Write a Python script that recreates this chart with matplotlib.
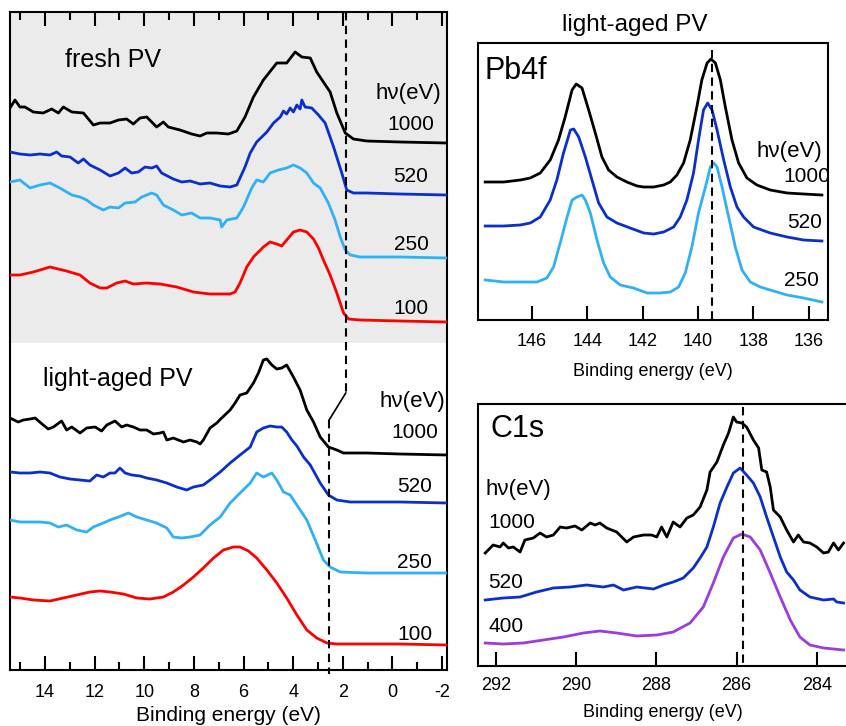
import matplotlib
matplotlib.use("Agg")
import matplotlib.pyplot as plt
from matplotlib.ticker import MultipleLocator

plt.rcParams['font.family'] = ['Liberation Sans', 'DejaVu Sans']
plt.rcParams['axes.unicode_minus'] = False

# ---------------- valence band, fresh PV (binding energy eV, intensity a.u.) -------------
fresh_1000_x = [15.41,15.21,15.01,14.81,14.47,14.07,13.73,13.46,13.26,12.92,12.45,12.05,11.78,11.38,11.04,10.71,10.44,10.17,9.90,9.50,9.23,9.03,8.56,8.09,7.75,7.48,7.08,6.61,6.27,5.94,5.60,5.20,4.66,4.26,3.92,3.65,3.31,3.05,2.51,2.24,1.90,1.57,1.03,-0.31,-2.20]
fresh_1000_y = [562,570,563,563,558,557,561,557,563,558,557,545,547,547,550,551,546,552,553,543,548,543,540,536,534,537,537,536,539,553,573,590,607,607,618,613,612,598,578,557,537,531,529,528,527]

fresh_520_x = [15.41,15.01,14.60,14.20,13.80,13.53,13.33,12.99,12.66,12.45,12.19,11.78,11.38,11.04,10.77,10.51,10.24,9.97,9.70,9.50,9.30,8.83,8.49,8.15,7.75,7.35,6.94,6.54,6.27,5.94,5.73,5.47,5.06,4.79,4.52,4.39,4.26,4.12,3.99,3.85,3.72,3.65,3.52,3.25,2.98,2.71,2.37,2.04,1.84,1.57,1.03,-0.31,-2.20]
fresh_520_y = [518,516,515,516,515,518,514,513,507,511,505,500,494,497,502,497,498,503,502,504,497,491,488,489,486,487,484,483,485,503,517,528,538,547,553,559,556,562,558,565,561,570,563,562,555,547,523,497,480,477,477,476,475]

fresh_250_x = [15.41,15.01,14.60,14.20,13.80,13.40,12.92,12.59,12.32,12.05,11.65,11.38,11.04,10.77,10.37,10.10,9.70,9.50,9.23,8.83,8.49,8.09,7.75,7.35,6.94,6.88,6.67,6.27,6.00,5.67,5.47,5.20,4.93,4.59,4.26,3.99,3.72,3.45,3.18,2.91,2.58,2.31,2.10,1.90,1.70,1.30,-0.31,-2.20]
fresh_250_y = [488,490,482,485,487,482,475,473,470,465,460,463,462,467,468,473,477,475,465,460,455,457,452,452,450,443,450,452,463,482,490,488,497,500,502,505,502,497,487,482,467,450,433,420,415,413,413,412]

fresh_100_x = [15.41,15.01,14.47,13.80,13.13,12.59,12.19,11.78,11.51,11.11,10.77,10.44,9.90,9.36,8.69,8.02,7.35,6.54,6.34,6.14,5.87,5.60,5.20,4.93,4.66,4.46,4.26,3.99,3.72,3.45,3.18,2.98,2.78,2.51,2.24,1.97,1.77,1.30,-0.31,-2.20]
fresh_100_y = [395,395,398,403,399,395,387,382,382,387,389,386,387,386,383,378,376,376,378,387,403,413,423,428,426,424,430,438,440,438,431,422,410,395,377,357,351,350,349,348]

# ---------------- valence band, light-aged PV ----------------
aged_1000_x = [15.41,15.08,14.87,14.60,14.40,14.07,13.87,13.66,13.33,13.13,12.92,12.59,12.32,11.98,11.72,11.51,11.18,10.91,10.71,10.44,10.17,9.90,9.63,9.36,9.23,9.09,8.83,8.42,8.15,7.88,7.75,7.62,7.35,7.08,6.88,6.54,6.34,6.14,5.87,5.60,5.40,5.20,5.06,4.86,4.66,4.46,4.26,3.99,3.72,3.45,3.18,2.91,2.58,2.24,1.97,1.03,-0.31,-2.20]
aged_1000_y = [252,248,250,251,252,245,241,243,249,240,243,237,242,243,239,245,249,243,245,243,240,240,236,237,238,230,232,228,230,228,226,230,242,247,252,260,267,275,277,287,297,310,311,305,301,302,305,293,280,260,248,233,223,220,217,217,216,215]

aged_520_x = [15.41,15.01,14.60,14.20,13.80,13.40,12.99,12.59,12.19,11.92,11.65,11.38,11.18,10.98,10.77,10.51,10.17,9.90,9.50,9.09,8.69,8.29,8.02,7.62,7.35,6.94,6.54,6.14,5.73,5.47,5.20,4.93,4.66,4.46,4.26,4.05,3.85,3.58,3.31,2.91,2.58,2.24,1.70,-0.31,-2.20]
aged_520_y = [198,197,197,198,197,193,191,190,189,195,193,197,197,202,197,195,194,192,190,187,183,180,183,185,190,198,207,215,223,238,242,244,243,243,238,230,224,213,205,187,175,170,168,168,167]

aged_250_x = [15.41,15.01,14.60,14.20,13.80,13.46,13.13,12.72,12.32,12.05,11.65,11.38,11.04,10.64,10.30,9.90,9.50,9.09,8.83,8.49,8.15,7.75,7.35,6.94,6.54,6.14,5.73,5.47,5.20,4.86,4.66,4.39,4.12,3.85,3.45,3.11,2.78,2.51,2.10,1.03,-2.20]
aged_250_y = [150,148,148,148,147,143,145,140,138,143,147,150,153,157,153,150,147,142,133,132,133,135,145,153,167,177,187,197,193,197,190,178,175,165,150,130,110,103,98,97,97]

aged_100_x = [15.41,15.01,14.47,13.80,13.26,12.72,12.19,11.78,11.38,10.84,10.30,9.77,9.23,8.83,8.42,8.02,7.62,7.21,6.81,6.41,6.14,5.80,5.47,5.06,4.66,4.26,3.85,3.45,3.05,2.64,2.24,1.70,-0.31,-2.20]
aged_100_y = [73,72,70,69,72,75,78,79,78,76,72,71,73,78,85,93,102,112,120,123,123,119,112,100,87,72,55,40,32,27,26,26,26,25]

vb_labels = ['1000', '520', '250', '100']
fresh_label_y = [545, 493, 425, 362]
aged_label_y = [238, 183, 108, 36]
fresh_edge = 1.88
aged_edge = 2.55

# ---------------- Pb4f core level, light-aged PV ----------------
pb_1000_x = [147.69,147.02,146.42,146.06,145.70,145.34,145.04,144.80,144.55,144.40,144.19,143.95,143.71,143.47,143.23,142.93,142.57,142.20,141.96,141.60,141.24,141.00,140.76,140.52,140.28,140.04,139.86,139.67,139.53,139.37,139.19,139.01,138.77,138.53,138.23,137.87,137.39,136.78,136.18,135.52]
pb_1000_y = [138,138,140,142,147,160,180,203,230,236,232,210,187,163,150,143,138,134,133,133,135,138,145,157,180,213,240,257,261,257,240,213,180,157,142,135,130,127,126,125]

pb_520_x = [147.69,147.02,146.42,146.06,145.70,145.34,145.10,144.86,144.61,144.49,144.31,144.07,143.83,143.59,143.29,142.93,142.45,141.96,141.60,141.24,140.88,140.64,140.40,140.16,139.98,139.80,139.65,139.49,139.31,139.07,138.83,138.59,138.35,137.99,137.39,136.78,136.18,135.52]
pb_520_y = [94,94,95,97,103,120,140,167,190,191,183,163,140,117,103,97,92,87,86,88,93,103,120,147,180,210,217,210,190,160,133,113,103,93,87,83,80,79]

pb_250_x = [147.69,147.02,146.42,145.82,145.46,145.22,144.98,144.73,144.55,144.37,144.19,144.07,143.89,143.65,143.41,143.17,142.81,142.33,141.84,141.36,141.00,140.70,140.46,140.22,139.98,139.73,139.55,139.43,139.31,139.13,138.89,138.65,138.41,138.11,137.75,137.39,136.78,136.18,135.52]
pb_250_y = [40,38,38,38,42,53,77,103,120,123,125,120,107,80,57,43,35,32,27,27,28,33,47,73,107,133,153,157,153,133,103,73,50,38,33,30,25,22,18]

pb_labels = ['1000', '520', '250']
pb_label_y = [143, 97, 40]
pb_peak = 139.5

# ---------------- C1s core level ----------------
c_1000_x = [292.27,292.07,291.90,291.82,291.69,291.57,291.40,291.28,291.07,290.90,290.74,290.57,290.40,290.24,290.03,289.86,289.65,289.53,289.41,289.24,288.99,288.74,288.57,288.32,288.12,287.99,287.87,287.74,287.58,287.41,287.24,287.08,286.91,286.74,286.66,286.49,286.33,286.20,286.08,286.00,285.87,285.75,285.58,285.45,285.37,285.25,285.16,285.08,284.91,284.75,284.58,284.46,284.33,284.17,284.00,283.83,283.71,283.58,283.46,283.33]
c_1000_y = [113,121,119,123,118,119,114,126,128,133,129,131,139,138,140,136,143,141,143,138,134,124,129,131,131,129,139,129,144,139,148,151,159,176,194,204,221,233,249,244,243,239,226,218,196,194,179,156,149,136,124,131,124,123,119,113,114,123,116,123]

c_520_x = [292.27,291.82,291.40,290.99,290.57,290.15,289.74,289.32,289.07,288.82,288.49,288.07,287.82,287.58,287.33,287.08,286.91,286.74,286.58,286.41,286.24,286.08,285.91,285.75,285.58,285.41,285.25,285.08,284.91,284.75,284.58,284.42,284.17,283.83,283.58,283.50,283.33]
c_520_y = [66,68,69,74,78,79,81,79,81,76,79,77,81,84,88,98,108,119,139,163,179,193,198,191,183,169,149,129,109,94,86,76,69,66,67,64,63]

c_400_x = [292.27,291.82,291.32,290.82,290.32,289.82,289.41,288.99,288.49,287.99,287.58,287.16,286.83,286.58,286.33,286.08,285.87,285.66,285.41,285.16,284.91,284.66,284.42,284.17,283.83,283.33]
c_400_y = [23,22,23,26,29,33,35,33,30,31,34,43,59,83,109,128,132,129,116,93,69,46,29,21,18,16]

c_labels = ['1000', '520', '400']
c_label_y = [143, 84, 40]
c_peak = 285.83

# ---------------- styling ----------------
BLACK = '#000000'
BLUE = '#0a2fcc'
LBLUE = '#30b0f5'
RED = '#ff0000'
PURPLE = '#9b3ddc'
LW = 2.0

W, H = 846, 726
fig = plt.figure(figsize=(W / 100, H / 100), dpi=100)

def frac(x0, y0, x1, y1):
    return [x0 / W, 1 - y1 / H, (x1 - x0) / W, (y1 - y0) / H]

def style(ax, major, minor=None, top=False, pad=7):
    for s in ax.spines.values():
        s.set_linewidth(1.5)
    ax.xaxis.set_major_locator(MultipleLocator(major))
    if minor:
        ax.xaxis.set_minor_locator(MultipleLocator(minor))
    ax.tick_params(axis='x', which='major', direction='in', length=10, width=1.5,
                   top=top, bottom=True, labelsize=13, pad=pad)
    ax.tick_params(axis='x', which='minor', direction='in', length=6, width=1.5,
                   top=top, bottom=True)
    ax.tick_params(axis='y', left=False, labelleft=False)

# ---- left panel
axL = fig.add_axes(frac(10, 12, 447, 670))
axL.set_xlim(15.41, -2.2)
axL.set_ylim(0, 658)
axL.axhspan(327, 700, color='#ebebeb', lw=0, zorder=0)
for xs, ys, c in [(fresh_1000_x, fresh_1000_y, BLACK), (fresh_520_x, fresh_520_y, BLUE),
                  (fresh_250_x, fresh_250_y, LBLUE), (fresh_100_x, fresh_100_y, RED),
                  (aged_1000_x, aged_1000_y, BLACK), (aged_520_x, aged_520_y, BLUE),
                  (aged_250_x, aged_250_y, LBLUE), (aged_100_x, aged_100_y, RED)]:
    axL.plot(xs, ys, color=c, lw=LW, zorder=3)
dash = (0, (4, 2.6))
axL.plot([fresh_edge, fresh_edge], [658, 277], color='k', lw=1.5, ls=dash, zorder=4)
axL.plot([fresh_edge, aged_edge], [277, 250], color='k', lw=1.2, zorder=4)
axL.plot([aged_edge, aged_edge], [250, -4], color='k', lw=1.5, ls=dash, zorder=4, clip_on=False)
axL.text(11.26, 610, 'fresh PV', fontsize=18, ha='center', va='center')
axL.text(11.06, 291, 'light-aged PV', fontsize=18, ha='center', va='center')
axL.text(-0.66, 576, 'hν(eV)', fontsize=16, ha='center', va='center')
axL.text(-0.8, 268, 'hν(eV)', fontsize=16, ha='center', va='center')
for lab, y in zip(vb_labels, fresh_label_y):
    axL.text(-0.75, y, lab, fontsize=15, ha='center', va='center')
for lab, y in zip(vb_labels, aged_label_y):
    axL.text(-0.9, y, lab, fontsize=15, ha='center', va='center')
style(axL, 2, 1, top=True, pad=10)
axL.set_xlabel('Binding energy (eV)', fontsize=15, labelpad=4)

# ---- Pb4f panel
axP = fig.add_axes(frac(478, 43, 828, 320))
axP.set_xlim(147.95, 135.3)
axP.set_ylim(0, 277)
for xs, ys, c in [(pb_1000_x, pb_1000_y, BLACK), (pb_520_x, pb_520_y, BLUE), (pb_250_x, pb_250_y, LBLUE)]:
    axP.plot(xs, ys, color=c, lw=LW, zorder=3)
axP.plot([pb_peak, pb_peak], [270, 0], color='k', lw=1.5, ls=dash, zorder=4)
axP.text(147.7, 249, 'Pb4f', fontsize=22, ha='left', va='center')
axP.text(136.7, 168, 'hν(eV)', fontsize=16, ha='center', va='center')
for lab, y, xx in zip(pb_labels, pb_label_y, [136.08, 136.15, 136.25]):
    axP.text(xx, y, lab, fontsize=15, ha='center', va='center')
axP.text(142.3, 295, 'light-aged PV', fontsize=17.5, ha='center', va='center', clip_on=False)
style(axP, 2, pad=9)
axP.set_xlabel('Binding energy (eV)', fontsize=13, labelpad=10)

# ---- C1s panel
axC = fig.add_axes(frac(478, 404, 848, 666))
axC.set_xlim(292.45, 283.22)
axC.set_ylim(0, 262)
for xs, ys, c in [(c_1000_x, c_1000_y, BLACK), (c_520_x, c_520_y, BLUE), (c_400_x, c_400_y, PURPLE)]:
    axC.plot(xs, ys, color=c, lw=LW, zorder=3)
axC.plot([c_peak, c_peak], [259, 0], color='k', lw=1.5, ls=dash, zorder=4)
axC.text(292.15, 237, 'C1s', fontsize=22, ha='left', va='center')
axC.text(292.27, 176, 'hν(eV)', fontsize=16, ha='left', va='center')
for lab, y in zip(c_labels, c_label_y):
    axC.text(292.2, y, lab, fontsize=15, ha='left', va='center')
style(axC, 2, pad=8)
axC.set_xlabel('Binding energy (eV)', fontsize=13, labelpad=7)

fig.savefig('out.png', dpi=100)
